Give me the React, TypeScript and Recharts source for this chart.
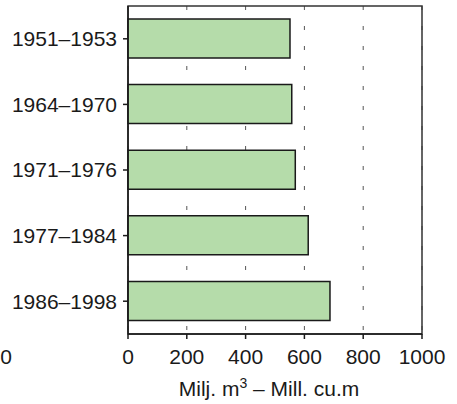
import {
  BarChart,
  Bar,
  XAxis,
  YAxis,
  CartesianGrid,
  ReferenceArea,
} from 'recharts';

// Water volume per period, million cubic metres
const periods = ['1951–1953', '1964–1970', '1971–1976', '1977–1984', '1986–1998'];
const volumes = [551, 557, 569, 613, 687];
const xTicks = [0, 200, 400, 600, 800, 1000];

const data = periods.map((period, i) => ({ period, volume: volumes[i] }));

const FONT = '"Liberation Sans", Arial, Helvetica, sans-serif';
const INK = '#1a1a1a';

// Axis title with a superscript, plus the stray "0" printed at the far left
function AxisTitle(props: any) {
  const vb = props.viewBox || {};
  const cx = vb.x + vb.width / 2 - 6;
  return (
    <g fontFamily={FONT} fontSize={21} fill={INK}>
      <text x={6} y={364} textAnchor="middle">0</text>
      <text x={cx} y={396} textAnchor="middle">
        Milj. m
        <tspan fontSize={14} dy={-8}>3</tspan>
        <tspan dy={8}> – Mill. cu.m</tspan>
      </text>
    </g>
  );
}

export default function App() {
  return (
    <div style={{ position: 'absolute', left: 0, top: 0, width: 457, height: 404, background: '#fff' }}>
      <BarChart
        width={457}
        height={404}
        data={data}
        layout="vertical"
        margin={{ top: 6, right: 35, bottom: 0, left: 8 }}
      >
        <CartesianGrid
          horizontal={false}
          stroke="#555"
          strokeWidth={1}
          strokeDasharray="4 16"
        />
        <XAxis
          type="number"
          domain={[0, 1000]}
          ticks={xTicks}
          interval={0}
          height={70}
          tickSize={5}
          tickMargin={10}
          stroke={INK}
          strokeWidth={1.5}
          tick={{ fill: INK, fontSize: 21, fontFamily: FONT }}
          label={{ content: AxisTitle }}
        />
        <YAxis
          type="category"
          dataKey="period"
          width={120}
          tickSize={5}
          tickMargin={6}
          stroke={INK}
          strokeWidth={1.5}
          tick={{ fill: INK, fontSize: 21, fontFamily: FONT }}
        />
        <Bar
          dataKey="volume"
          barSize={39}
          fill="#b5dcaa"
          stroke={INK}
          strokeWidth={1.5}
          isAnimationActive={false}
        />
        <ReferenceArea x1={0} x2={1000} fill="none" stroke="#333" strokeWidth={1.5} />
      </BarChart>
    </div>
  );
}
